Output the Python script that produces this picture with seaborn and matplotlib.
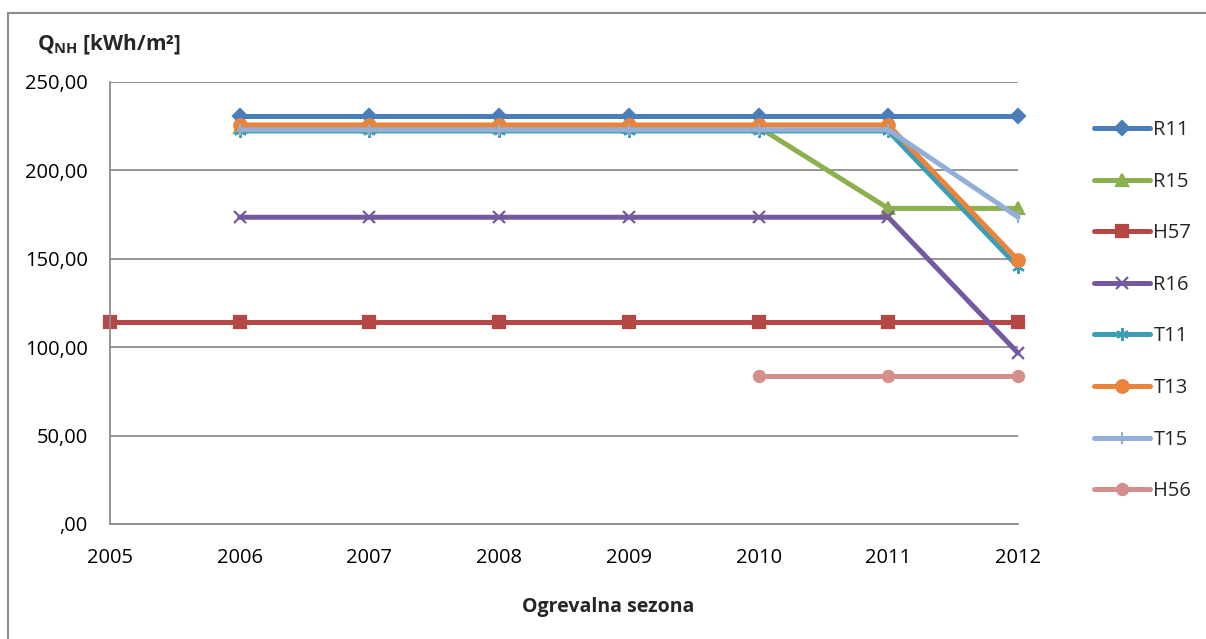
import numpy as np
import pandas as pd
import matplotlib
matplotlib.use("Agg")
import matplotlib.pyplot as plt
from matplotlib.lines import Line2D
from matplotlib.ticker import FuncFormatter, MultipleLocator
import seaborn as sns

sns.set_theme(style="white")
plt.rcParams["font.family"] = ["Open Sans", "DejaVu Sans"]
plt.rcParams["mathtext.fontset"] = "custom"
plt.rcParams["mathtext.rm"] = "Open Sans"
plt.rcParams["mathtext.bf"] = "Open Sans:bold"

# Heating seasons and heat demand per building [kWh/m2]
years = [2005, 2006, 2007, 2008, 2009, 2010, 2011, 2012]
series_names = ["R11", "R15", "H57", "R16", "T11", "T13", "T15", "H56"]
R11 = [np.nan, 230.5, 230.5, 230.5, 230.5, 230.5, 230.5, 230.5]
R15 = [np.nan, 224.5, 224.5, 224.5, 224.5, 224.5, 178.5, 178.5]
H57 = [114.3, 114.3, 114.3, 114.3, 114.3, 114.3, 114.3, 114.3]
R16 = [np.nan, 173.5, 173.5, 173.5, 173.5, 173.5, 173.5, 96.7]
T11 = [np.nan, 222.3, 222.3, 222.3, 222.3, 222.3, 222.3, 145.5]
T13 = [np.nan, 225.7, 225.7, 225.7, 225.7, 225.7, 225.7, 149.3]
T15 = [np.nan, 223.0, 223.0, 223.0, 223.0, 223.0, 223.0, 173.6]
H56 = [np.nan, np.nan, np.nan, np.nan, np.nan, 83.7, 83.7, 83.7]
values = [R11, R15, H57, R16, T11, T13, T15, H56]

colors = {"R11": "#4A7EBB", "R15": "#8CB04E", "H57": "#B54745", "R16": "#7459A0",
          "T11": "#3C9DB6", "T13": "#E9843A", "T15": "#93AFD8", "H56": "#D48F8D"}
markers = {"R11": "D", "R15": "^", "H57": "s", "R16": "x",
           "T11": (6, 2, 0), "T13": "o", "T15": "|", "H56": "o"}
msizes = {"R11": 7, "R15": 8, "H57": 8, "R16": 8,
          "T11": 9, "T13": 9, "T15": 9, "H56": 8}

rows = []
for name, vals in zip(series_names, values):
    for yr, v in zip(years, vals):
        rows.append({"Ogrevalna sezona": yr, "Q": v, "series": name})
df = pd.DataFrame(rows).dropna()

fig = plt.figure(figsize=(12.06, 6.39), dpi=100)
W, H = 1206, 639
ax = fig.add_axes([110 / W, 1 - 524 / H, (1018 - 110) / W, (524 - 82) / H])

for name in series_names:
    sub = df[df["series"] == name]
    sns.lineplot(data=sub, x="Ogrevalna sezona", y="Q", color=colors[name],
                 marker=markers[name], markersize=msizes[name],
                 markeredgewidth=1.6, markeredgecolor=colors[name],
                 linewidth=3.6, legend=False, ax=ax, clip_on=False)
for ln in ax.lines:
    ln.set_clip_on(False)

ax.set_xlim(2005, 2012)
ax.set_ylim(0, 250)
ax.xaxis.set_major_locator(MultipleLocator(1))
ax.yaxis.set_major_locator(MultipleLocator(50))
ax.xaxis.set_major_formatter(FuncFormatter(lambda v, p: f"{int(round(v))}"))


def fmt(v, p):
    s = f"{v:.2f}".replace(".", ",")
    return s[1:] if s.startswith("0,") else s


ax.yaxis.set_major_formatter(FuncFormatter(fmt))
ax.tick_params(axis="both", which="major", length=0, labelsize=14.5, colors="black")
ax.tick_params(axis="y", which="major", pad=16)
ax.tick_params(axis="x", which="major", pad=17)
ax.yaxis.grid(True, color="#8C8C8C", linewidth=1.3)
ax.set_axisbelow(True)
for side in ["top", "right"]:
    ax.spines[side].set_visible(False)
for side in ["left", "bottom"]:
    ax.spines[side].set_color("#8C8C8C")
    ax.spines[side].set_linewidth(1.3)
ax.set_xlabel("")
ax.set_ylabel("")

fig.text(608 / W, 1 - 607 / H, "Ogrevalna sezona", ha="center", va="center",
         fontsize=14, fontweight="bold")
fig.text(37 / W, 1 - 45 / H, r"$\mathbf{Q_{NH}}$ [kWh/m²]", ha="left", va="center",
         fontsize=15, fontweight="bold")

handles = [Line2D([0], [0], color=colors[n], marker=markers[n], linewidth=3.6,
                  markersize=msizes[n], markeredgewidth=1.6, markeredgecolor=colors[n])
           for n in series_names]
fig.legend(handles, series_names, loc="upper left",
           bbox_to_anchor=(1094 / W, 1 - 120 / H), frameon=False,
           fontsize=14.5, labelspacing=1.57, handlelength=2.8, handletextpad=0.15,
           borderaxespad=0, borderpad=0)

# chart frame
fig.add_artist(Line2D([8 / W, 8 / W], [0, 1 - 13 / H], transform=fig.transFigure,
                      color="#8C8C8C", linewidth=1.5))
fig.add_artist(Line2D([8 / W, 1], [1 - 13 / H, 1 - 13 / H], transform=fig.transFigure,
                      color="#8C8C8C", linewidth=1.5))

fig.savefig("out.png", dpi=100)
